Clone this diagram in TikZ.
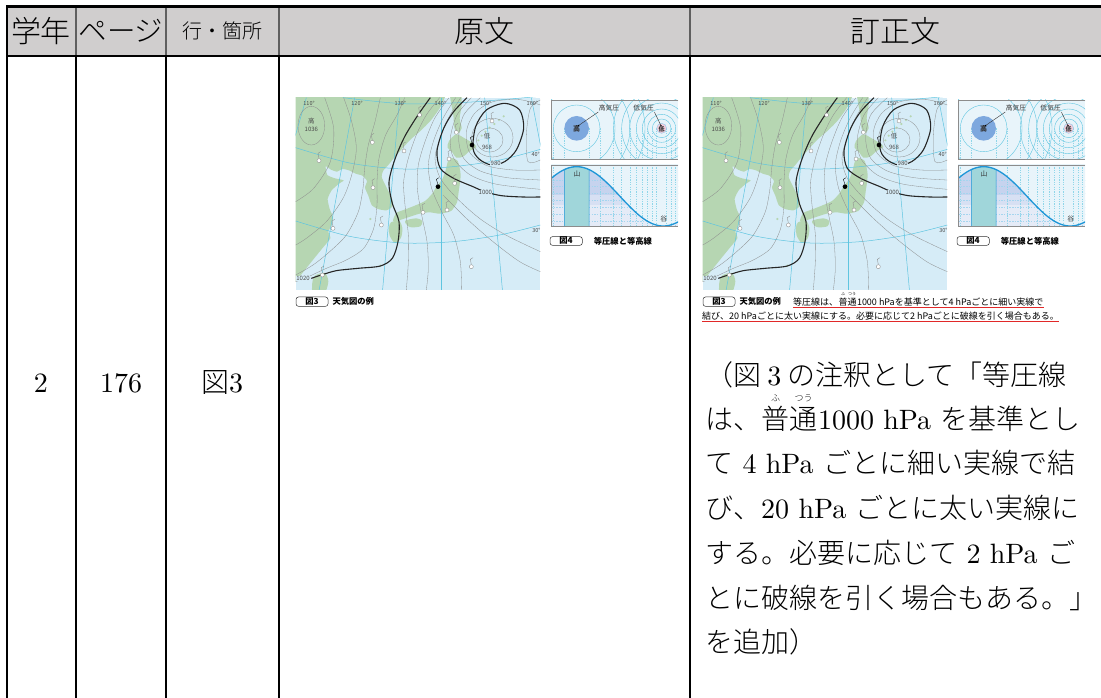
\documentclass[tikz,border=0pt]{standalone}
\usepackage{fontspec}
\setmainfont{lmroman10-regular.otf}[BoldFont=lmroman10-bold.otf]
\newfontfamily\jp{Noto Sans CJK JP}
\IfFontExistsTF{HaranoAjiMincho-Regular}{\newfontfamily\jpm{HaranoAjiMincho-Regular}}{%
 \IfFontExistsTF{ipaexm.ttf}{\newfontfamily\jpm{ipaexm.ttf}}{%
  \IfFontExistsTF{Noto Sans CJK JP Light}{\newfontfamily\jpm{Noto Sans CJK JP Light}}{%
   \IfFontExistsTF{Noto Sans CJK JP DemiLight}{\newfontfamily\jpm{Noto Sans CJK JP DemiLight}}{%
    \newfontfamily\jpm{Noto Sans CJK JP}}}}}
\usetikzlibrary{calc}
\definecolor{hdrgray}{RGB}{208,206,206}
\definecolor{hdrline}{RGB}{95,95,95}
\definecolor{sea}{RGB}{214,236,247}
\definecolor{land}{RGB}{182,214,178}
\definecolor{isogray}{RGB}{140,140,140}
\definecolor{gridcyan}{RGB}{95,197,224}
\definecolor{panelbg}{RGB}{232,244,250}
\definecolor{hidisk}{RGB}{125,168,222}
\definecolor{lodisk}{RGB}{242,205,220}
\definecolor{curveblue}{RGB}{30,150,215}
\definecolor{underfill}{RGB}{198,211,238}
\definecolor{tealcol}{RGB}{160,214,218}
\definecolor{capred}{RGB}{225,40,40}
\definecolor{lbl}{RGB}{75,75,75}
\newcommand\J[1]{{\jpm #1}}
\tikzset{
  tbl/.style={line width=2.2pt},
  hdr/.style={font=\jpm\fontsize{30}{32}\selectfont, inner sep=0},
  body/.style={font=\fontsize{28}{30}\selectfont, inner sep=0, anchor=base west},
  cell/.style={font=\fontsize{28}{30}\selectfont, inner sep=0, anchor=base},
  rubyst/.style={font=\jpm\fontsize{9}{10}\selectfont, inner sep=0, anchor=base},
  iso/.style={draw=isogray, line width=0.3pt},
  thickiso/.style={draw=black!85, line width=1.1pt},
  gridln/.style={draw=gridcyan, line width=0.5pt},
  maplbl/.style={font=\jp\fontsize{5.5}{6}\selectfont, text=lbl, inner sep=0.4pt},
  stn/.style={draw=isogray, fill=white, line width=0.35pt},
  capb/.style={font=\jp\bfseries\fontsize{8.3}{9}\selectfont, inner sep=0},
  capn/.style={font=\jp\fontsize{9}{10}\selectfont, inner sep=0, anchor=base west},
  figlbl/.style={font=\jp\fontsize{6.8}{7}\selectfont, inner sep=0.3pt, text=black!80},
  dashv/.style={draw=gridcyan!70, line width=0.35pt, dash pattern=on 1.2pt off 1.2pt},
  dashh/.style={draw=white!60!curveblue, line width=0.35pt, dash pattern=on 1.5pt off 1.2pt},
}
\newcommand\curvey[1]{304-89*cos(0.692308*(#1-95))}
\newcommand\wxfig[2]{%
\begin{scope}[shift={(#1,95)},scale=1/3]
  \fill[sea] (8,8) rectangle (742,585);
  \begin{scope}
    \clip (8,8) rectangle (742,585);
    % land
    \fill[land] plot[smooth cycle,tension=0.35] coordinates {(-30,-30) (460,-30) (455,8) (440,40) (412,78) (382,108) (352,134) (330,158) (306,185) (286,210) (270,228) (266,246) (276,268) (288,292) (298,315) (298,335) (280,346) (255,342) (236,330) (226,302) (216,278) (222,258) (208,242) (188,236) (168,226) (148,222) (132,230) (114,224) (98,214) (103,240) (126,250) (152,256) (138,266) (116,286) (104,312) (110,342) (120,366) (116,390) (106,410) (112,430) (88,460) (62,492) (38,522) (14,550) (-30,575)};
    \fill[land] plot[smooth cycle,tension=0.5] coordinates {(472,-10) (502,-10) (506,30) (500,70) (506,100) (494,116) (484,98) (481,60) (474,22)};
    \fill[land] plot[smooth cycle,tension=0.5] coordinates {(468,138) (490,118) (515,130) (540,145) (550,156) (530,168) (510,185) (490,188) (478,172) (464,158)};
    \fill[land] plot[smooth cycle,tension=0.4] coordinates {(470,188) (494,198) (503,240) (497,290) (492,322) (474,348) (440,356) (410,352) (380,356) (348,366) (318,376) (300,378) (310,354) (340,342) (370,330) (396,318) (416,298) (430,276) (448,252) (458,226) (463,205)};
    \fill[land] plot[smooth cycle,tension=0.5] coordinates {(336,378) (370,370) (388,378) (382,394) (350,396)};
    \fill[land] plot[smooth cycle,tension=0.5] coordinates {(294,382) (318,378) (328,398) (324,428) (306,444) (290,422) (288,398)};
    \fill[land] plot[smooth cycle,tension=0.5] coordinates {(66,542) (95,534) (106,560) (92,600) (60,600) (58,562)};
    \foreach \p in {(556,136),(566,122),(577,110),(590,98),(604,87),(618,75),(632,64),(232,372),(262,512)}
      \fill[land] \p circle[radius=3.5];
    % grid
    \foreach \aa in {40,185,320,445,575,715}
      \draw[gridln] (\aa,8) -- ({445+(\aa-445)*1.41},585);
    \draw[gridln] plot[smooth] coordinates {(8,158) (170,204) (330,222) (480,215) (620,195) (742,163)};
    \draw[gridln] plot[smooth] coordinates {(8,378) (170,424) (330,444) (480,440) (620,420) (742,390)};
    \draw[gridln] plot[smooth] coordinates {(150,8) (330,26) (520,22) (742,4)};
    % thin isobars
    \draw[iso] (55,92) ellipse[x radius=40, y radius=58];
    \draw[iso] plot[smooth] coordinates {(95,8) (122,100) (112,200) (62,280) (8,320)};
    \draw[iso] plot[smooth] coordinates {(152,8) (176,80) (190,160) (176,240) (150,310) (100,380) (40,430) (8,450)};
    \draw[iso] plot[smooth] coordinates {(262,8) (246,80) (226,150) (215,220) (210,280) (196,350) (160,420) (110,470) (60,510) (8,540)};
    \draw[iso] plot[smooth] coordinates {(335,8) (312,60) (278,120) (258,190) (252,260) (252,330) (242,400) (212,460) (160,495) (100,520) (40,548) (8,560)};
    \draw[iso] plot[smooth] coordinates {(440,8) (400,60) (370,120) (346,190) (332,260) (336,330) (346,420) (346,500) (340,585)};
    \draw[iso] plot[smooth] coordinates {(468,8) (425,70) (396,140) (376,210) (373,280) (386,360) (402,440) (406,520) (400,585)};
    \draw[iso] plot[smooth] coordinates {(488,8) (450,70) (421,140) (406,210) (416,280) (446,350) (482,420) (502,500) (506,585)};
    \draw[iso] plot[smooth] coordinates {(503,8) (466,70) (441,130) (426,190) (442,250) (492,310) (562,372) (642,422) (742,470)};
    \draw[iso] plot[smooth] coordinates {(450,300) (520,370) (600,440) (680,500) (742,530)};
    \draw[iso] plot[smooth] coordinates {(535,8) (492,60) (472,130) (482,190) (532,240) (612,268) (742,283)};
    \draw[iso] plot[smooth] coordinates {(562,8) (512,60) (497,130) (512,190) (562,228) (642,248) (742,255)};
    \draw[iso] plot[smooth] coordinates {(742,225) (662,225) (582,212) (530,172) (520,110) (545,55) (600,20) (680,14) (742,30)};
    \draw[iso] plot[smooth] coordinates {(742,195) (705,200) (700,120) (712,40) (742,15)};
    \draw[iso] (590,135) ellipse[x radius=40, y radius=36];
    \draw[iso] (598,128) ellipse[x radius=62, y radius=58];
    % thick isobars
    \draw[thickiso] plot[smooth] coordinates {(412,8) (375,60) (335,125) (305,195) (288,262) (298,325) (318,380) (315,440) (298,490) (262,513) (195,520) (130,527) (85,540) (55,550)};
    \draw[thickiso] plot[smooth] coordinates {(522,8) (482,50) (452,100) (432,168) (442,220) (482,250) (540,275) (575,290) (625,302) (690,306) (742,306)};
    \draw[thickiso] plot[smooth cycle] coordinates {(540,160) (548,95) (580,45) (635,25) (680,45) (692,100) (670,165) (635,200) (595,210) (558,192)};
    % stations
    \foreach \sx/\sy in {78/197,333/168,240/278,390/352,265/390,238/142,468/192,485/265,462/345,490/112,380/60,597/78,535/515,120/400,88/540}{
      \draw[isogray, line width=0.35pt] (\sx,\sy-6) -- (\sx-3,\sy-22) -- (\sx+5,\sy-27);
      \draw[stn] (\sx,\sy) circle[radius=6];
    }
    \foreach \sx/\sy in {537/150,435/275}{
      \draw[black, line width=0.35pt] (\sx,\sy-6) -- (\sx-5,\sy-22) -- (\sx+3,\sy-27);
      \fill[black] (\sx,\sy) circle[radius=7];
    }
    % labels
    \node[maplbl] (#2d1) at (48,25) {110°};
    \node[maplbl] (#2d2) at (192,25) {120°};
    \node[maplbl] (#2d3) at (322,25) {130°};
    \node[maplbl] (#2d4) at (442,25) {140°};
    \node[maplbl] (#2d5) at (578,25) {150°};
    \node[maplbl] (#2d6) at (718,25) {160°};
    \node[maplbl] (#2d7) at (728,178) {40°};
    \node[maplbl] (#2d8) at (730,405) {30°};
    \node[maplbl, font=\jp\fontsize{6.5}{7}\selectfont] (#2hi) at (55,78) {高};
    \node[maplbl, font=\jp\fontsize{6}{7}\selectfont] (#2hiv) at (55,104) {1036};
    \node[maplbl, font=\jp\fontsize{6.5}{7}\selectfont] (#2lo) at (582,124) {低};
    \node[maplbl, font=\jp\fontsize{6}{7}\selectfont] (#2lov) at (582,158) {968};
    \node[maplbl, fill=sea, font=\jp\fontsize{6}{7}\selectfont] (#2i1000) at (577,292) {1000};
    \node[maplbl, fill=sea, font=\jp\fontsize{6}{7}\selectfont] (#2i980) at (608,206) {980};
    \node[maplbl, fill=sea, font=\jp\fontsize{6}{7}\selectfont] (#2i1020) at (30,550) {1020};
  \end{scope}
  % caption fig 3
  \draw[black!80, line width=0.5pt, rounded corners=2.5pt] (9,606) rectangle (105,634);
  \node[capb] (#2c3) at (57,620) {図3};
  \node[capb, anchor=west] (#2c3t) at (118,620) {天気図の例};
  % ---------- figure 4 ----------
  \begin{scope}[shift={(756,0)}]
    \fill[panelbg] (18,15) rectangle (399,192);
    \begin{scope}
      \clip (18,15) rectangle (399,192);
      \foreach \rr in {70,115,160,205} \draw[gridcyan, line width=0.4pt] (95,100) circle[radius=\rr];
      \foreach \rr in {28,42,58,76,96,120,145} \draw[gridcyan, line width=0.4pt] (350,100) circle[radius=\rr];
      \foreach \vv in {25,58,132,165,205,230,255,275,292,308,322,335,365,378,392}
        \draw[dashv] (\vv,100) -- (\vv,192);
      \fill[hidisk] (95,100) circle[radius=37];
      \filldraw[fill=lodisk, draw=curveblue!50, line width=0.4pt] (350,100) circle[radius=15];
    \end{scope}
    \draw[black!45, line width=0.6pt] (399,15) -- (18,15) -- (18,192) -- (399,192);
    \node[figlbl, font=\jp\bfseries\fontsize{7}{8}\selectfont] (#2hk) at (95,102) {高};
    \node[figlbl, font=\jp\bfseries\fontsize{6}{7}\selectfont] (#2lk) at (350,102) {低};
    \node[figlbl] (#2hkl) at (192,40) {高気圧};
    \node[figlbl] (#2lkl) at (296,40) {低気圧};
    \coordinate (#2hdot) at (100,92);
    \coordinate (#2ldot) at (348,92);
    \draw[black!80, line width=0.4pt] (#2hkl.south west) -- (#2hdot);
    \draw[black!80, line width=0.4pt] (#2lkl.south east) -- (#2ldot);
    \fill[black] (#2hdot) circle[radius=2.5];
    \fill[black] (#2ldot) circle[radius=2.5];
    % lower panel
    \fill[panelbg] (18,210) rectangle (399,395);
    \begin{scope}
      \clip (18,210) rectangle (399,395);
      \fill[underfill] (18,205) rectangle (399,300);
      \fill[underfill!70!white] (18,300) rectangle (399,330);
      \fill[underfill!45!white] (18,330) rectangle (399,395);
      \foreach \hh in {255,275,296,317,338,359,380}
        \draw[dashh] (18,\hh) -- (399,\hh);
      \fill[panelbg] plot[domain=18:399, samples=70] (\x,{\curvey{\x}}) -- (399,205) -- (18,205) -- cycle;
      \foreach \vv in {25,165,205,230,255,275,292,308,322,335,365,378,392}
        \draw[dashv] (\vv,210) -- (\vv,395);
      \filldraw[fill=tealcol, draw=curveblue, line width=0.5pt] plot[domain=58:132, samples=20] (\x,{\curvey{\x}}) -- (132,397) -- (58,397) -- cycle;
      \draw[curveblue, line width=1.3pt] plot[domain=18:399, samples=70] (\x,{\curvey{\x}});
    \end{scope}
    \draw[black!45, line width=0.6pt] (399,210) -- (18,210) -- (18,395) -- (399,395);
    \node[figlbl] (#2yama) at (96,236) {山};
    \node[figlbl] (#2tani) at (356,373) {谷};
    % caption fig 4
    \draw[black!80, line width=0.5pt, rounded corners=2.5pt] (15,425) rectangle (112,451);
    \node[capb] (#2c4) at (63,438) {図4};
    \node[capb, anchor=west] (#2c4t) at (146,438) {等圧線と等高線};
  \end{scope}
\end{scope}}
\begin{document}
\begin{tikzpicture}[x=1pt,y=-1pt]
\useasboundingbox (0,0) rectangle (1101,698);
\fill[white] (0,0) rectangle (1101,698);
% header
\fill[hdrgray] (7,7) rectangle (1101,56);
\draw[hdrline, line width=1.3pt] (76,7) -- (76,56) (166,7) -- (166,56) (279,7) -- (279,56) (690,7) -- (690,56);
\draw[tbl] (7.3,698) -- (7.3,6.6) -- (1101,6.6);
\draw[tbl] (7,56) -- (1101,56);
\draw[tbl] (76,56) -- (76,698) (166,56) -- (166,698) (279,56) -- (279,698) (690,56) -- (690,698);
\node[hdr] (h1) at (41,31) {学年};
\node[hdr, font=\jpm\fontsize{28.5}{30}\selectfont] (h2) at (121,31) {ページ};
\node[hdr, font=\jpm\fontsize{20}{22}\selectfont] (h3) at (222,31) {行・箇所};
\node[hdr] (h4) at (484,31) {原文};
\node[hdr] (h5) at (895,31) {訂正文};
% body cells
\node[cell] (c1) at (41,392) {2};
\node[cell] (c2) at (121,392) {176};
\node[cell] (c3) at (222,392) {\J{図}3};
% figures
\wxfig{293}{L}
\wxfig{700}{R}
% red-underlined caption (right)
\node[capn] (k1a) at (793,305) {等圧線は、};
\node[capn] (k1b) at (k1a.base east) {普通};
\node[capn] (k1c) at (k1b.base east) {1000 hPaを基準として4 hPaごとに細い実線で};
\node[rubyst, font=\jp\fontsize{4}{5}\selectfont] (k1r1) at ($(k1b.base west)!0.25!(k1b.base east)+(0,-9.5)$) {ふ};
\node[rubyst, font=\jp\fontsize{4}{5}\selectfont] (k1r2) at ($(k1b.base west)!0.75!(k1b.base east)+(0,-9.5)$) {つう};
\node[capn] (k2) at (702,319) {結び、20 hPaごとに太い実線にする。必要に応じて2 hPaごとに破線を引く場合もある。};
\draw[capred, line width=0.7pt] ($(k1a.base west)+(0,2.4)$) -- ($(k1c.base east)+(0,2.4)$);
\draw[capred, line width=0.7pt] ($(k2.base west)+(0,2.4)$) -- ($(k2.base east)+(0,2.4)$);
% corrected text
\node[body] (t1) at (705,385) {\J{（図}\hspace{0.22em}3\hspace{0.22em}\J{の注釈として「等圧線}};
\node[body] (t2a) at (705,429) {\J{は、}};
\node[body] (t2b) at (t2a.base east) {\J{普通}};
\node[body] (t2c) at (t2b.base east) {1000 hPa \J{を基準とし}};
\node[rubyst] (t2r1) at ($(t2b.base west)!0.25!(t2b.base east)+(0,-28)$) {ふ};
\node[rubyst] (t2r2) at ($(t2b.base west)!0.75!(t2b.base east)+(0,-28)$) {つう};
\node[body] (t3) at (705,473) {\J{て} 4 hPa \J{ごとに細い実線で結}};
\node[body] (t4) at (705,518) {\J{び、}20 hPa \J{ごとに太い実線に}};
\node[body] (t5) at (705,563) {\J{する。必要に応じて} 2 hPa \J{ご}};
\node[body] (t6) at (705,608) {\J{とに破線を引く場合もある。」}};
\node[body] (t7) at (705,652) {\J{を追加）}};
\end{tikzpicture}
\end{document}
